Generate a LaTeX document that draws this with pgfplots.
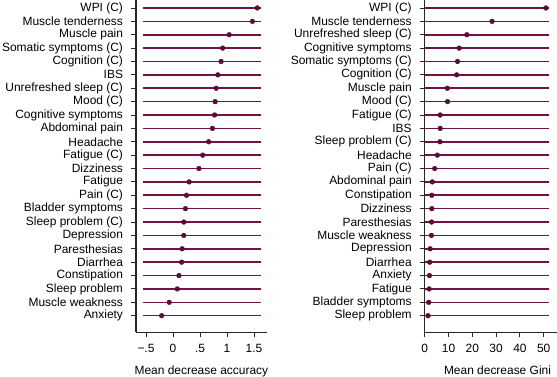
\documentclass[border=0pt]{standalone}
\usepackage{fontspec}
\setmainfont{Liberation Sans}
\usepackage{pgfplots}
\usepackage{pgfplotstable}
\pgfplotsset{compat=1.18}
\definecolor{lin}{RGB}{112,20,70}
\definecolor{dotc}{RGB}{95,10,55}
\definecolor{axc}{RGB}{40,40,40}

% Mean decrease accuracy (y = row, 24 = top)
\pgfplotstableread{
y val
24 1.56
23 1.47
22 1.04
21 0.92
20 0.89
19 0.83
18 0.80
17 0.78
16 0.77
15 0.73
14 0.66
13 0.55
12 0.48
11 0.30
10 0.25
9 0.23
8 0.20
7 0.20
6 0.17
5 0.16
4 0.11
3 0.08
2 -0.07
1 -0.21
}\accdata

% Mean decrease Gini
\pgfplotstableread{
y val
24 50.9
23 28.3
22 17.7
21 14.5
20 13.8
19 13.4
18 9.5
17 9.6
16 6.5
15 6.5
14 6.4
13 5.3
12 4.2
11 3.2
10 3.0
9 3.0
8 2.9
7 2.8
6 2.3
5 2.1
4 2.0
3 1.9
2 1.7
1 1.4
}\ginidata

\begin{document}
\begin{tikzpicture}[x=1bp,y=1bp]
\pgfplotsset{
  lolli/.style={
    scale only axis,
    axis lines*=left,
    axis line style={draw=axc, line width=1.1pt},
    every tick/.style={draw=axc, line width=0.9pt},
    major tick length=5bp,
    tick align=outside,
    ymin=-0.241, ymax=25,
    height=337.7bp,
    ytick={1,...,24},
    tick label style={font=\fontsize{12}{14}\selectfont},
    yticklabel style={xshift=-4.5bp},
    xticklabel style={yshift=-3bp},
    label style={font=\fontsize{12}{14}\selectfont},
    clip=false,
  }
}
\begin{axis}[lolli,
  at={(136bp,44.7bp)}, anchor=south west,
  width=130.7bp,
  xmin=-0.685, xmax=1.735,
  xtick={-0.5,0,0.5,1,1.5},
  xticklabels={−.5,0,.5,1,1.5},
  yticklabels={Anxiety,Muscle weakness,Sleep problem,Constipation,Diarrhea,Paresthesias,Depression,Sleep problem (C),Bladder symptoms,Pain (C),Fatigue,Dizziness,Fatigue (C),Headache,Abdominal pain,Cognitive symptoms,Mood (C),Unrefreshed sleep (C),IBS,Cognition (C),Somatic symptoms (C),Muscle pain,Muscle tenderness,WPI (C)},
  xlabel={Mean decrease accuracy},
  xlabel style={at={(axis description cs:0.5,0)}, anchor=base, inner sep=0pt, yshift=-41.7bp},
]
\pgfplotsinvokeforeach{1,...,24}{
  \addplot[draw=lin, line width=1.6pt, mark=none, forget plot] coordinates {(-0.56,#1) (1.63,#1)};
}
\addplot[only marks, mark=*, mark size=2.4pt, color=dotc] table[x=val, y=y] {\accdata};
\end{axis}

\begin{axis}[lolli,
  at={(424.7bp,44.7bp)}, anchor=south west,
  width=145.3bp,
  xmin=0, xmax=61.05,
  xtick={0,10,20,30,40,50},
  xticklabels={0,10,20,30,40,50},
  yticklabels={Sleep problem,Bladder symptoms,Fatigue,Anxiety,Diarrhea,Depression,Muscle weakness,Paresthesias,Dizziness,Constipation,Abdominal pain,Pain (C),Headache,Sleep problem (C),IBS,Fatigue (C),Mood (C),Muscle pain,Cognition (C),Somatic symptoms (C),Cognitive symptoms,Unrefreshed sleep (C),Muscle tenderness,WPI (C)},
  xlabel={Mean decrease Gini},
  xlabel style={at={(axis description cs:0.501,0)}, anchor=base, inner sep=0pt, yshift=-41.7bp},
]
\pgfplotsinvokeforeach{1,...,24}{
  \addplot[draw=lin, line width=1.6pt, mark=none, forget plot] coordinates {(0,#1) (52.2,#1)};
}
\addplot[only marks, mark=*, mark size=2.4pt, color=dotc] table[x=val, y=y] {\ginidata};
\end{axis}
\pgfresetboundingbox
\path[use as bounding box] (0,0) rectangle (557bp,377bp);
\end{tikzpicture}
\end{document}
